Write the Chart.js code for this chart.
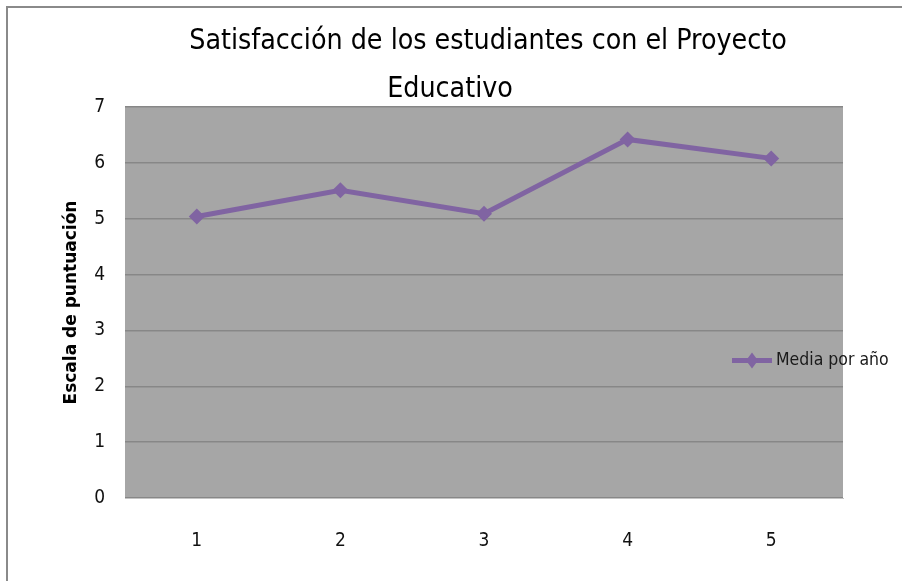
<!DOCTYPE html>
<html>
<head>
<meta charset="utf-8">
<script src="https://cdn.jsdelivr.net/npm/chart.js@4.4.1/dist/chart.umd.min.js"></script>
<style>
  html, body { margin: 0; padding: 0; background: #ffffff; }
  #wrap { position: relative; width: 902px; height: 581px; }
  canvas { display: block; }
</style>
</head>
<body>
<div id="wrap"><canvas id="c" width="902" height="581"></canvas></div>
<script>
const categories = ['1', '2', '3', '4', '5'];
const seriesLabel = 'Media por año';
const mediaPorAno = [5.04, 5.51, 5.09, 6.42, 6.08];
const titleLines = ['Satisfacción de los estudiantes con el Proyecto', 'Educativo'];
const yAxisTitle = 'Escala de puntuación';

const FONT = "'DejaVu Sans Condensed', 'Liberation Sans', sans-serif";
const PURPLE = '#8064a2';

const plotBg = {
  id: 'plotBg',
  beforeDraw(chart) {
    const { ctx, chartArea: a } = chart;
    ctx.save();
    ctx.strokeStyle = '#8a8a8a';
    ctx.lineWidth = 2;
    ctx.beginPath();
    ctx.moveTo(902, 7);
    ctx.lineTo(7, 7);
    ctx.lineTo(7, 581);
    ctx.stroke();
    ctx.fillStyle = '#a6a6a6';
    ctx.fillRect(a.left, a.top, a.right - a.left, a.bottom - a.top);
    ctx.restore();
  }
};

const titleAndLegend = {
  id: 'titleAndLegend',
  afterDraw(chart) {
    const { ctx, chartArea: a } = chart;
    ctx.save();
    // title (two lines, as wrapped in the original)
    ctx.fillStyle = '#000000';
    ctx.font = "28.3px " + FONT;
    ctx.textAlign = 'center';
    ctx.textBaseline = 'middle';
    ctx.fillText(titleLines[0], 488, 42);
    ctx.fillText(titleLines[1], 450, 90);

    // legend entry
    const ds = chart.data.datasets[0];
    const y = (a.top + a.bottom) / 2 + 58;
    const x0 = a.right - 111;
    ctx.strokeStyle = PURPLE;
    ctx.lineWidth = 5;
    ctx.beginPath();
    ctx.moveTo(x0, y);
    ctx.lineTo(x0 + 40, y);
    ctx.stroke();
    ctx.fillStyle = PURPLE;
    ctx.beginPath();
    ctx.moveTo(x0 + 20, y - 8);
    ctx.lineTo(x0 + 26, y);
    ctx.lineTo(x0 + 20, y + 8);
    ctx.lineTo(x0 + 14, y);
    ctx.closePath();
    ctx.fill();
    ctx.fillStyle = '#1a1a1a';
    ctx.font = "17.5px " + FONT;
    ctx.textAlign = 'left';
    ctx.fillText(ds.label, x0 + 44, y);
    ctx.restore();
  }
};

new Chart(document.getElementById('c'), {
  type: 'line',
  data: {
    labels: categories,
    datasets: [{
      label: seriesLabel,
      data: mediaPorAno,
      borderColor: PURPLE,
      backgroundColor: PURPLE,
      borderWidth: 5,
      pointStyle: 'rectRot',
      pointRadius: 8,
      pointHoverRadius: 8,
      pointBorderWidth: 0,
      tension: 0
    }]
  },
  options: {
    responsive: false,
    animation: false,
    devicePixelRatio: 1,
    layout: { padding: { left: 0, right: 59, top: 107, bottom: 0 } },
    plugins: {
      legend: { display: false },
      tooltip: { enabled: false },
      title: { display: false }
    },
    scales: {
      x: {
        offset: true,
        grid: { display: false, drawTicks: false },
        border: { display: true, color: '#c4c4c4', width: 1 },
        ticks: { color: '#111111', font: { family: FONT, size: 19 }, padding: 32 },
        afterFit(s) { s.height = 83; }
      },
      y: {
        min: 0,
        max: 7,
        ticks: { stepSize: 1, color: '#111111', font: { family: FONT, size: 19 }, padding: 20 },
        grid: { color: '#878787', lineWidth: 1.5, drawTicks: false },
        border: { display: false },
        title: {
          display: true,
          text: yAxisTitle,
          color: '#000000',
          font: { family: "'DejaVu Sans', sans-serif", size: 17, weight: 'bold' },
          padding: { top: 61, bottom: 0 }
        },
        afterFit(s) { s.width = 125; }
      }
    }
  },
  plugins: [plotBg, titleAndLegend]
});
</script>
</body>
</html>
